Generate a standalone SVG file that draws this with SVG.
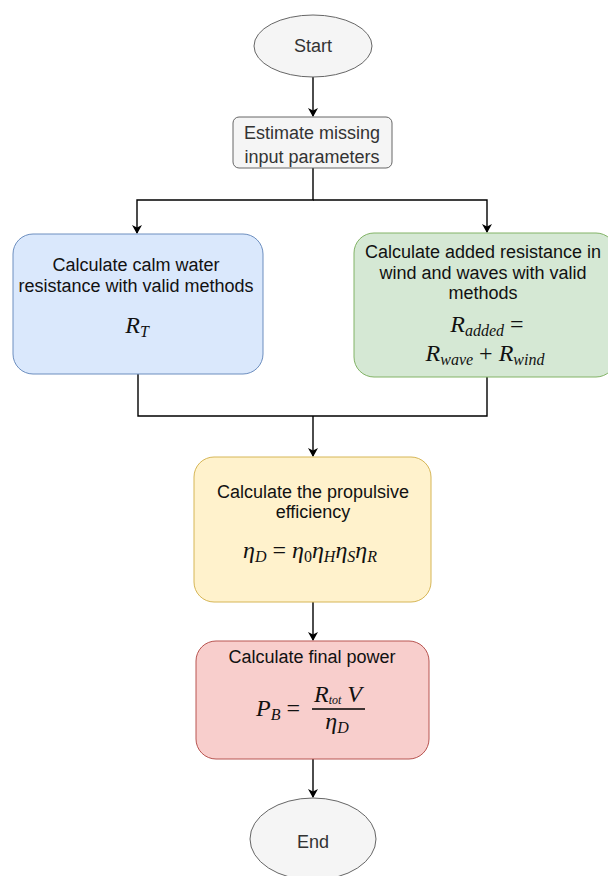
<svg xmlns="http://www.w3.org/2000/svg" width="608" height="876" viewBox="0 0 608 876">
<defs>
<marker id="arr" markerWidth="10" markerHeight="10" refX="8" refY="5" orient="auto" markerUnits="userSpaceOnUse">
<path d="M0,0 L9,5 L0,10 L2.5,5 Z" fill="#000"/>
</marker>
<style>
.t{font-family:"Liberation Sans",Arial,sans-serif;font-size:18px;fill:#111;text-anchor:middle}
.g{fill:#333}
.m{font-family:"Liberation Serif","Times New Roman",serif;font-style:italic;font-size:24px;fill:#111;text-anchor:middle}
.s{font-size:16px}
.c{fill:none;stroke:#000;stroke-width:1.4}
</style>
</defs>
<rect width="608" height="876" fill="#fff"/>
<g id="connectors">
<path class="c" d="M313,77 V116" marker-end="url(#arr)"/>
<path class="c" d="M313,168 V200 H137 V233" marker-end="url(#arr)"/>
<path class="c" d="M313,200 H487 V232" marker-end="url(#arr)"/>
<path class="c" d="M138,374 V416 H487 V377"/>
<path class="c" d="M313,416 V456" marker-end="url(#arr)"/>
<path class="c" d="M313,602 V640" marker-end="url(#arr)"/>
<path class="c" d="M313,759 V797" marker-end="url(#arr)"/>
</g>
<g id="start">
<ellipse cx="313" cy="46" rx="59" ry="31" fill="#f5f5f5" stroke="#666"/>
<text class="t g" x="313" y="52">Start</text>
</g>
<g id="estimate">
<rect x="233" y="117" width="159" height="51" rx="6" fill="#f5f5f5" stroke="#666"/>
<text class="t g" x="312" y="139">Estimate missing</text>
<text class="t g" x="312" y="163">input parameters</text>
</g>
<g id="calm">
<rect x="13" y="234" width="250" height="140" rx="20" fill="#dae8fc" stroke="#6c8ebf"/>
<text class="t" x="136" y="271">Calculate calm water</text>
<text class="t" x="136" y="292">resistance with valid methods</text>
<text class="m" x="137" y="333">R<tspan class="s" dy="4">T</tspan></text>
</g>
<g id="added">
<rect x="354" y="233" width="262" height="144" rx="20" fill="#d5e8d4" stroke="#82b366"/>
<text class="t" x="483" y="258">Calculate added resistance in</text>
<text class="t" x="483" y="279">wind and waves with valid</text>
<text class="t" x="483" y="299">methods</text>
<text class="m" x="487" y="332">R<tspan class="s" dy="4">added</tspan><tspan dy="-4" font-style="normal"> =</tspan></text>
<text class="m" x="485" y="361">R<tspan class="s" dy="4">wave</tspan><tspan dy="-4" font-style="normal"> + </tspan>R<tspan class="s" dy="4">wind</tspan></text>
</g>
<g id="efficiency">
<rect x="194" y="457" width="237" height="145" rx="20" fill="#fff2cc" stroke="#d6b656"/>
<text class="t" x="313" y="498">Calculate the propulsive</text>
<text class="t" x="313" y="518">efficiency</text>
<text class="m" x="310" y="558">η<tspan class="s" dy="4">D</tspan><tspan dy="-4" font-style="normal"> = </tspan>η<tspan class="s" dy="4" font-style="normal">0</tspan><tspan dy="-4">η</tspan><tspan class="s" dy="4">H</tspan><tspan dy="-4">η</tspan><tspan class="s" dy="4">S</tspan><tspan dy="-4">η</tspan><tspan class="s" dy="4">R</tspan></text>
</g>
<g id="power">
<rect x="196" y="641" width="233" height="118" rx="20" fill="#f8cecc" stroke="#b85450"/>
<text class="t" x="312" y="663">Calculate final power</text>
<text class="m" x="278" y="716">P<tspan class="s" dy="4">B</tspan><tspan dy="-4" font-style="normal"> =</tspan></text>
<text class="m" x="338" y="702">R<tspan font-size="12" dy="2">tot</tspan><tspan dy="-2"> V</tspan></text>
<line x1="312" y1="709" x2="365" y2="709" stroke="#000" stroke-width="1.4"/>
<text class="m" x="337" y="729">η<tspan class="s" dy="4">D</tspan></text>
</g>
<g id="end">
<ellipse cx="313" cy="839" rx="63" ry="41" fill="#f5f5f5" stroke="#666"/>
<text class="t g" x="313" y="848">End</text>
</g>
</svg>
